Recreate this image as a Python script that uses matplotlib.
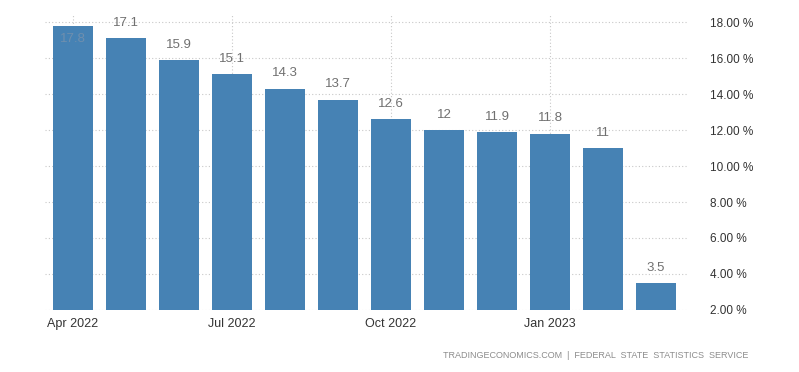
import numpy as np
import matplotlib
matplotlib.use("Agg")
import matplotlib.pyplot as plt

plt.rcParams['font.family'] = ['Liberation Sans', 'DejaVu Sans']

# monthly values, Apr 2022 .. Mar 2023
months = ["Apr 2022", "May 2022", "Jun 2022", "Jul 2022", "Aug 2022", "Sep 2022",
          "Oct 2022", "Nov 2022", "Dec 2022", "Jan 2023", "Feb 2023", "Mar 2023"]
values = [17.8, 17.1, 15.9, 15.1, 14.3, 13.7, 12.6, 12, 11.9, 11.8, 11, 3.5]
labels = ["17.8", "17.1", "15.9", "15.1", "14.3", "13.7", "12.6", "12", "11.9", "11.8", "11", "3.5"]
tick_idx = [0, 3, 6, 9]
yticks = [2, 4, 6, 8, 10, 12, 14, 16, 18]

base = 2.0
ytop = 18.45

fig = plt.figure(figsize=(7.99, 3.72), dpi=100)
ax = fig.add_axes([0.056, 0.167, 0.805, 0.795])

x = np.arange(len(values))
ax.bar(x, np.array(values) - base, bottom=base, width=0.75, color="#4682b4", zorder=2)

for xi, v, lab in zip(x, values, labels):
    if v + 1.3 > ytop:
        # no room above: draw inside the bar
        ax.text(xi, v - 0.75, lab, ha="center", va="center", fontsize=9.5, color="#6f8fae", zorder=3)
    else:
        ax.text(xi, v + 0.85, lab, ha="center", va="center", fontsize=9.5, color="#707070", zorder=3)

ax.set_xlim(-0.53, 11.6)
ax.set_ylim(base, ytop)

ax.set_xticks(tick_idx)
ax.set_xticklabels([months[i] for i in tick_idx], fontsize=9, color="#333333")
ax.set_yticks(yticks)
ax.set_yticklabels(["%.2f %%" % t for t in yticks], fontsize=8.5, color="#333333")
ax.yaxis.tick_right()
ax.tick_params(axis="both", length=0)
ax.tick_params(axis="y", pad=16)
ax.tick_params(axis="x", pad=6)
for lbl in ax.get_yticklabels():
    lbl.set_horizontalalignment("left")

ax.grid(True, axis="both", linestyle=(0, (1, 2)), color="#c8c8c8", linewidth=0.8, zorder=0)
for s in ax.spines.values():
    s.set_visible(False)

fig.text(0.937, 0.045, "TRADINGECONOMICS.COM  |  FEDERAL  STATE  STATISTICS  SERVICE",
         ha="right", va="center", fontsize=6.5, color="#8c8c8c")

fig.savefig("out.png", dpi=100, facecolor="white")
